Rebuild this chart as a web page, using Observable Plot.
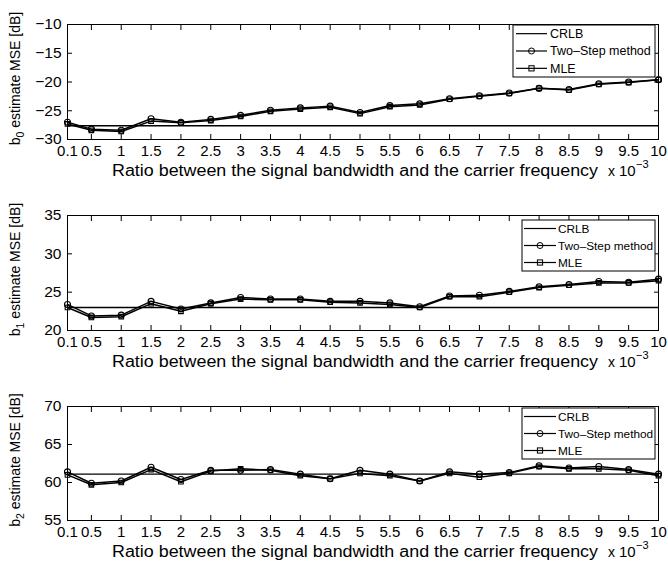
<!DOCTYPE html>
<html><head><meta charset="utf-8">
<script src="https://cdn.jsdelivr.net/npm/d3@7"></script>
<script src="https://cdn.jsdelivr.net/npm/@observablehq/plot@0.6"></script>
<style>
body{margin:0;background:#fff;font-family:"Liberation Sans",Arial,Helvetica,sans-serif}
#chart svg{display:block}
</style>
</head><body><div id="chart"></div>
<script>
// x values (ratio ×10^-3) and tick labels
const ratio = [0.1,0.5,1,1.5,2,2.5,3,3.5,4,4.5,5,5.5,6,6.5,7,7.5,8,8.5,9,9.5,10];
const xTickLabels = ["0.1","0.5","1","1.5","2","2.5","3","3.5","4","4.5","5","5.5","6","6.5","7","7.5","8","8.5","9","9.5","10"];
const seriesNames = ["CRLB","Two\u2013Step method","MLE"];

// b0 panel
const b0TwoStep = [-27.0,-28.2,-28.4,-26.4,-27.0,-26.5,-25.8,-24.9,-24.5,-24.2,-25.3,-24.1,-23.8,-22.9,-22.4,-21.9,-21.1,-21.3,-20.3,-20.0,-19.6];
const b0MLE     = [-27.3,-28.4,-28.6,-26.8,-27.1,-26.7,-26.0,-25.1,-24.7,-24.4,-25.5,-24.3,-24.0,-23.0,-22.5,-22.0,-21.1,-21.4,-20.4,-20.1,-19.6];
const b0CRLB = -27.6;
const b0Ticks = [-30,-25,-20,-15,-10];

// b1 panel
const b1TwoStep = [23.4,21.9,22.0,23.8,22.8,23.6,24.3,24.1,24.1,23.8,23.8,23.6,23.1,24.5,24.6,25.1,25.7,26.0,26.4,26.3,26.7];
const b1MLE     = [23.0,21.7,21.8,23.5,22.5,23.5,24.1,24.0,24.0,23.7,23.6,23.4,23.0,24.4,24.4,25.0,25.6,25.9,26.2,26.2,26.5];
const b1CRLB = 23.0;
const b1Ticks = [20,25,30,35];

// b2 panel
const b2TwoStep = [61.4,59.9,60.2,62.0,60.4,61.6,61.6,61.7,61.1,60.5,61.6,61.1,60.2,61.4,61.1,61.3,62.2,61.9,62.1,61.7,61.1];
const b2MLE     = [61.0,59.7,60.0,61.7,60.1,61.5,61.8,61.6,60.9,60.5,61.2,60.9,60.2,61.2,60.7,61.2,62.1,61.8,61.8,61.6,60.9];
const b2CRLB = 61.1;
const b2Ticks = [55,60,65,70];

const xLabel = "Ratio between the signal bandwidth and the carrier frequency";

const panels = [
  {sub:"0", two:b0TwoStep, mle:b0MLE, crlb:b0CRLB, ticks:b0Ticks, height:190, mt:24, mb:51, leg:{x:513, y:1, w:142, h:52, fs:12.5, lx1:516, lx2:547, tx:550}},
  {sub:"1", two:b1TwoStep, mle:b1MLE, crlb:b1CRLB, ticks:b1Ticks, height:190, mt:25, mb:50, leg:{x:522, y:5, w:133, h:51, fs:11.8, lx1:524, lx2:556, tx:558}},
  {sub:"2", two:b2TwoStep, mle:b2MLE, crlb:b2CRLB, ticks:b2Ticks, height:186, mt:26, mb:46, leg:{x:522, y:2, w:133, h:51, fs:11.8, lx1:524, lx2:556, tx:558}}
];

const W = 668, ML = 67, MR = 10;
const chart = document.getElementById("chart");
const xFmt = d => xTickLabels[ratio.indexOf(d)];

for (const p of panels) {
  const two = ratio.map((x,i)=>({x, y:p.two[i]}));
  const mle = ratio.map((x,i)=>({x, y:p.mle[i]}));
  const dom = [p.ticks[0], p.ticks[p.ticks.length-1]];
  const plot = Plot.plot({
    width: W, height: p.height,
    marginLeft: ML, marginRight: MR, marginTop: p.mt, marginBottom: p.mb,
    style: {fontFamily: '"Liberation Sans", Arial, sans-serif', fontSize: "15px", color: "black", background: "white"},
    x: {domain: [0.1, 10], label: null},
    y: {domain: dom, label: null},
    marks: [
      Plot.ruleY([p.crlb], {stroke: "black", strokeWidth: 1.4}),
      Plot.line(two, {x: "x", y: "y", stroke: "black", strokeWidth: 1.5}),
      Plot.line(mle, {x: "x", y: "y", stroke: "black", strokeWidth: 1.5}),
      Plot.dot(two, {x: "x", y: "y", symbol: "circle", r: 3, stroke: "black", fill: "none", strokeWidth: 1.1}),
      Plot.dot(mle, {x: "x", y: "y", symbol: "square", r: 2.6, stroke: "black", fill: "none", strokeWidth: 1.1}),
      Plot.axisX(ratio, {anchor: "bottom", tickSize: 0, tickPadding: 6, fontSize: 15, tickFormat: xFmt, label: null}),
      Plot.axisX(ratio, {anchor: "bottom", tickSize: -5, text: null, label: null}),
      Plot.axisX(ratio, {anchor: "top", tickSize: -5, text: null, label: null}),
      Plot.axisY(p.ticks, {anchor: "left", tickSize: 0, tickPadding: 6, fontSize: 15.5, label: null}),
      Plot.axisY(p.ticks, {anchor: "left", tickSize: -5, text: null, label: null}),
      Plot.axisY(p.ticks, {anchor: "right", tickSize: -5, text: null, label: null}),
      Plot.frame({stroke: "black", strokeWidth: 1})
    ]
  });
  chart.appendChild(plot);
  const svg = d3.select(plot);
  const top = p.mt, bottom = p.height - p.mb;
  const ff = '"Liberation Sans", Arial, sans-serif';

  // y label with subscript
  const yl = svg.append("text")
    .attr("transform", `translate(20,${(top+bottom)/2 - 3}) rotate(-90)`)
    .attr("text-anchor", "middle").attr("font-family", ff).attr("font-size", 14).attr("fill", "black");
  yl.append("tspan").text("b");
  yl.append("tspan").attr("dy", 4).attr("font-size", 10.5).text(p.sub);
  yl.append("tspan").attr("dy", -4).text(" estimate MSE [dB]");

  // x label
  svg.append("text").attr("x", 355).attr("y", bottom + 37)
    .attr("text-anchor", "middle").attr("font-family", ff).attr("font-size", 16).attr("fill", "black")
    .attr("textLength", 486).attr("lengthAdjust", "spacingAndGlyphs")
    .text(xLabel);
  // x 10^-3 multiplier
  svg.append("text").attr("x", 608).attr("y", bottom + 37).attr("text-anchor", "start")
    .attr("font-family", ff).attr("font-size", 14).attr("fill", "black").text("x");
  svg.append("text").attr("x", 619).attr("y", bottom + 37).attr("text-anchor", "start")
    .attr("font-family", ff).attr("font-size", 15).attr("fill", "black").text("10");
  svg.append("text").attr("x", 636).attr("y", bottom + 29).attr("text-anchor", "start")
    .attr("font-family", ff).attr("font-size", 11).attr("fill", "black").text("\u22123");

  // legend
  const L = p.leg;
  const g = svg.append("g");
  g.append("rect").attr("x", L.x).attr("y", top + L.y).attr("width", L.w).attr("height", L.h)
    .attr("fill", "white").attr("stroke", "black").attr("stroke-width", 1);
  const rowH = L.h / 3;
  seriesNames.forEach((name, i) => {
    const cy = top + L.y + rowH * (i + 0.5);
    g.append("line").attr("x1", L.lx1).attr("x2", L.lx2).attr("y1", cy).attr("y2", cy)
      .attr("stroke", "black").attr("stroke-width", 1.2);
    const mx = (L.lx1 + L.lx2) / 2;
    if (i === 1) g.append("circle").attr("cx", mx).attr("cy", cy).attr("r", 3).attr("fill", "none").attr("stroke", "black");
    if (i === 2) g.append("rect").attr("x", mx - 2.6).attr("y", cy - 2.6).attr("width", 5.2).attr("height", 5.2).attr("fill", "none").attr("stroke", "black");
    g.append("text").attr("x", L.tx).attr("y", cy).attr("dy", "0.35em").attr("text-anchor", "start")
      .attr("font-family", ff).attr("font-size", L.fs).attr("fill", "black").text(name);
  });
}
</script>
</body></html>
